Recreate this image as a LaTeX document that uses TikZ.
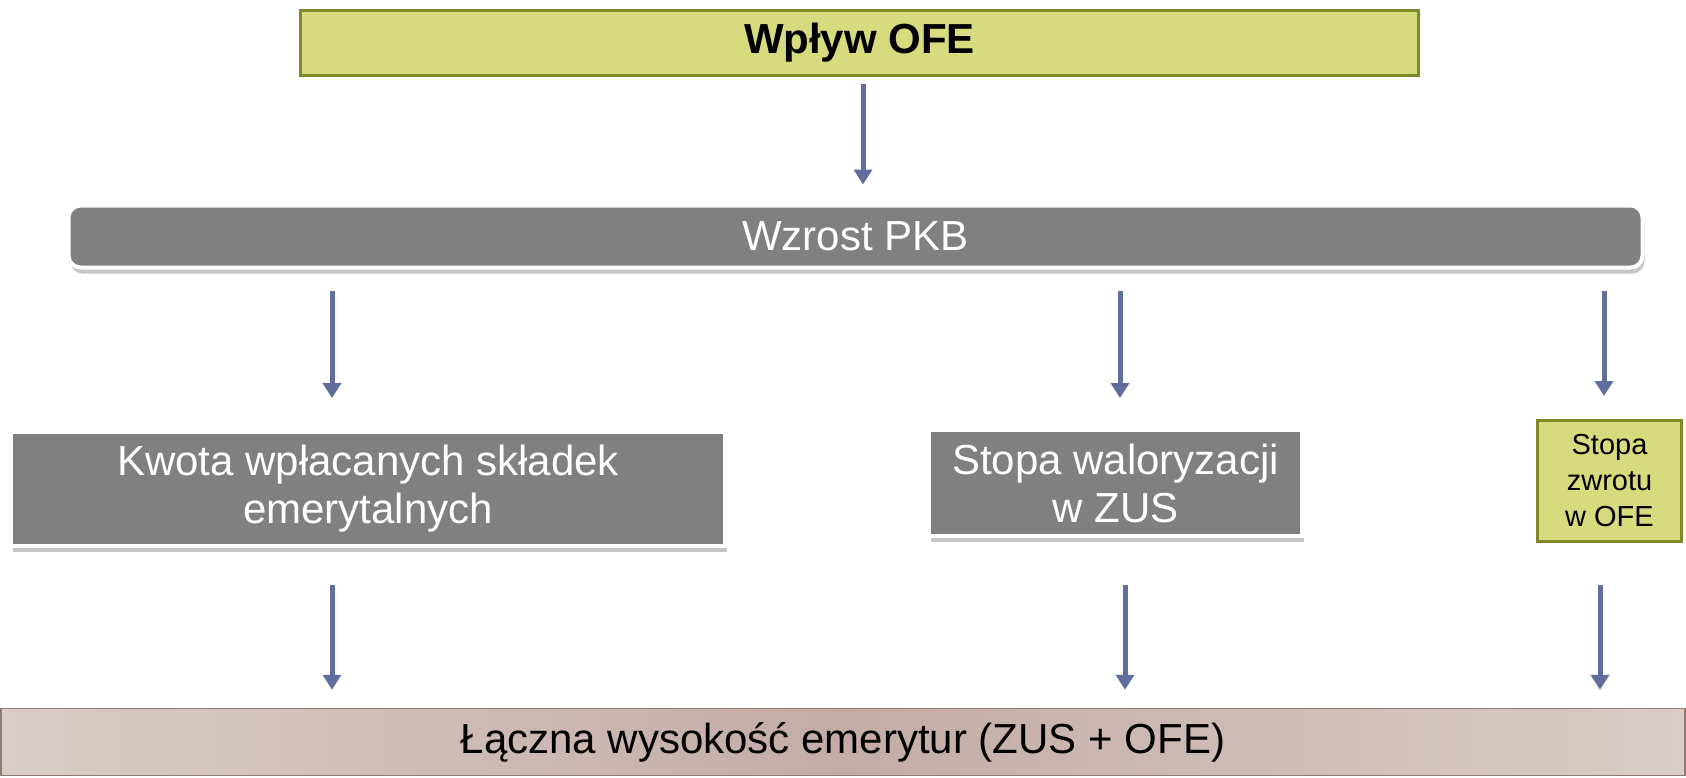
\documentclass[tikz,border=0pt]{standalone}
\usepackage{fontspec}
\setmainfont{Liberation Sans}
\usetikzlibrary{positioning,arrows.meta,shadows,calc}

\definecolor{olivefill}{RGB}{214,219,126}
\definecolor{oliveline}{RGB}{128,136,42}
\definecolor{boxgray}{RGB}{128,128,128}
\definecolor{arrowblue}{RGB}{96,110,158}
\definecolor{roseside}{RGB}{218,204,200}
\definecolor{rosemid}{RGB}{196,172,166}
\definecolor{roseline}{RGB}{150,122,116}

\begin{document}
\begin{tikzpicture}[x=1pt, y=-1pt,
  greenbox/.style={rectangle, draw=oliveline, fill=olivefill, line width=3pt,
    align=center, text=black},
  graybox/.style={rectangle, draw=white, fill=boxgray, line width=4pt,
    align=center, text=white, font=\fontsize{42}{48}\selectfont,
    drop shadow={opacity=0.45, shadow xshift=2pt, shadow yshift=-6pt}},
  arrow/.style={-{Triangle[width=18pt,length=15pt]}, line width=5pt, draw=arrowblue}]
  \useasboundingbox (0,0) rectangle (1686,777);

  \node[greenbox, minimum width=1118pt, minimum height=65pt,
    font=\fontsize{42}{48}\selectfont\bfseries] (ofe) at (859.5,43) {Wpływ OFE};
  \node[graybox, rounded corners=12pt, minimum width=1574pt, minimum height=62pt]
    (pkb) at (855.5,236.5) {Wzrost PKB};
  \node[graybox, minimum width=714pt, minimum height=114pt] (kwota) at (368,489)
    {Kwota wpłacanych składek\\emerytalnych};
  \node[graybox, minimum width=373pt, minimum height=106pt] (waloryz) at (1115.5,483)
    {Stopa waloryzacji\\w ZUS};
  \node[greenbox, minimum width=144pt, minimum height=121pt,
    font=\fontsize{29}{36}\selectfont] (zwrot) at (1609.5,481) {Stopa\\zwrotu\\w OFE};
  \node[rectangle, draw=roseline, line width=1.5pt, left color=roseside,
    right color=roseside, middle color=rosemid, minimum width=1684pt,
    minimum height=67pt, font=\fontsize{42}{48}\selectfont] (suma) at (843,742)
    {Łączna wysokość emerytur (ZUS + OFE)};

  \draw[arrow] ($(ofe.south)+(3.5,7)$) -- ($(ofe.south |- pkb.north)+(3.5,-19)$);
  \draw[arrow] ($(kwota.north |- pkb.south)+(-36,21)$) -- ($(kwota.north)+(-36,-32)$);
  \draw[arrow] ($(waloryz.north |- pkb.south)+(4.5,21)$) -- ($(waloryz.north)+(4.5,-30)$);
  \draw[arrow] ($(zwrot.north |- pkb.south)+(-5.5,21)$) -- ($(zwrot.north)+(-5.5,-23)$);
  \draw[arrow] ($(kwota.south)+(-36,37)$) -- ($(kwota.south |- suma.north)+(-36,-18)$);
  \draw[arrow] ($(waloryz.south)+(9.5,47)$) -- ($(waloryz.south |- suma.north)+(9.5,-18)$);
  \draw[arrow] ($(zwrot.south)+(-9.5,42)$) -- ($(zwrot.south |- suma.north)+(-9.5,-18)$);
\end{tikzpicture}
\end{document}
